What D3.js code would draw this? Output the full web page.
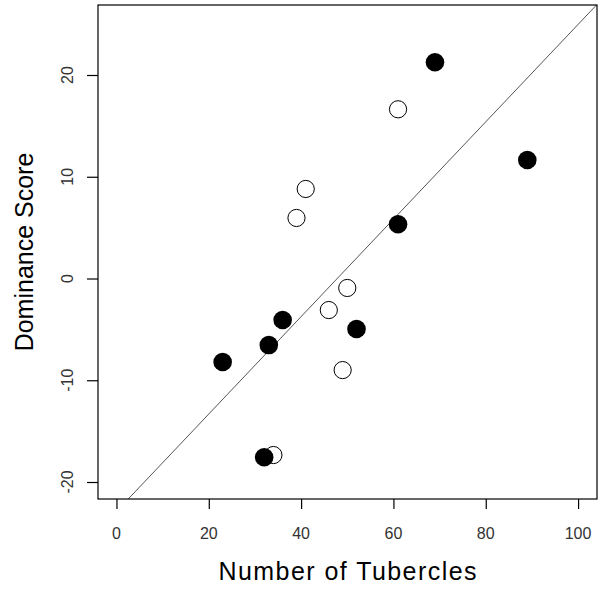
<!DOCTYPE html>
<html>
<head>
<meta charset="utf-8">
<script src="https://cdn.jsdelivr.net/npm/d3@7"></script>
<style>
  body { margin: 0; background: #fff; }
  svg { display: block; font-family: "Liberation Sans", Arial, sans-serif; }
  .tick-label { font-size: 16px; fill: #333; }
  .axis-title { font-size: 25px; fill: #000; }
</style>
</head>
<body>
<div class="chart"></div>
<script>
// Tubercle count vs dominance score

var tubercles = [41, 39, 61, 50, 46, 36, 52, 33, 23, 49, 69, 61, 89, 32, 34];
var dominance = [8.8, 5.95, 5.33, -0.93, -3.1, -4.08, -4.96, -6.54, -8.21, -9.0, 21.25, 16.63, 11.65, -17.57, -17.35];
var filled = [false, false, true, false, false, true, true, true, true, false, true, false, true, true, false];

var xTicks = [0, 20, 40, 60, 80, 100];
var yTicks = [-20, -10, 0, 10, 20];

// fitted line y = a + b*x
var lineIntercept = -22.89;
var lineSlope = 0.4786;

var svgWidth = 606;
var svgHeight = 593;

var plot = { left: 98, right: 597, top: 5, bottom: 499 };

var svg = d3.select(".chart")
  .append("svg")
  .attr("width", svgWidth)
  .attr("height", svgHeight);

var xScale = d3.scaleLinear()
  .domain([-4.0, 104.1])
  .range([plot.left, plot.right]);

var yScale = d3.scaleLinear()
  .domain([-21.67, 26.88])
  .range([plot.bottom, plot.top]);

svg.append("defs").append("clipPath")
  .attr("id", "plot-clip")
  .append("rect")
  .attr("x", plot.left)
  .attr("y", plot.top)
  .attr("width", plot.right - plot.left)
  .attr("height", plot.bottom - plot.top);

// regression line across the whole x domain, clipped to the box
var xd = xScale.domain();
svg.append("line")
  .attr("clip-path", "url(#plot-clip)")
  .attr("x1", xScale(xd[0]))
  .attr("y1", yScale(lineIntercept + lineSlope * xd[0]))
  .attr("x2", xScale(xd[1]))
  .attr("y2", yScale(lineIntercept + lineSlope * xd[1]))
  .attr("stroke", "#555")
  .attr("stroke-width", 1);

// points - open ones first so the filled ones sit on top
var points = tubercles.map(function(t, i) {
  return { x: t, y: dominance[i], filled: filled[i] };
});
points.sort(function(a, b) { return (a.filled ? 1 : 0) - (b.filled ? 1 : 0); });

svg.append("g")
  .selectAll("circle")
  .data(points)
  .enter().append("circle")
    .attr("cx", function(d) { return xScale(d.x); })
    .attr("cy", function(d) { return yScale(d.y); })
    .attr("r", function(d) { return d.filled ? 9.3 : 8.6; })
    .attr("fill", function(d) { return d.filled ? "#000" : "#fff"; })
    .attr("fill-opacity", function(d) { return d.filled ? 1 : 0; })
    .attr("stroke", "#000")
    .attr("stroke-width", function(d) { return d.filled ? 0 : 1; });

// box
svg.append("rect")
  .attr("x", plot.left)
  .attr("y", plot.top)
  .attr("width", plot.right - plot.left)
  .attr("height", plot.bottom - plot.top)
  .attr("fill", "none")
  .attr("stroke", "#000")
  .attr("stroke-width", 1.2);

// x axis
var xAxis = d3.axisBottom(xScale)
  .tickValues(xTicks)
  .tickSize(10)
  .tickPadding(0)
  .tickFormat(function() { return ""; });

var gx = svg.append("g")
  .attr("transform", "translate(0," + plot.bottom + ")")
  .call(xAxis);
gx.select(".domain").remove();
gx.selectAll(".tick line").attr("stroke", "#000").attr("stroke-width", 1.2);

svg.append("g")
  .selectAll("text")
  .data(xTicks)
  .enter().append("text")
    .attr("class", "tick-label")
    .attr("x", function(d) { return xScale(d); })
    .attr("y", 539)
    .attr("text-anchor", "middle")
    .text(function(d) { return d; });

// y axis
var yAxis = d3.axisLeft(yScale)
  .tickValues(yTicks)
  .tickSize(11)
  .tickPadding(0)
  .tickFormat(function() { return ""; });

var gy = svg.append("g")
  .attr("transform", "translate(" + plot.left + ",0)")
  .call(yAxis);
gy.select(".domain").remove();
gy.selectAll(".tick line").attr("stroke", "#000").attr("stroke-width", 1.2);

svg.append("g")
  .selectAll("text")
  .data(yTicks)
  .enter().append("text")
    .attr("class", "tick-label")
    .attr("transform", function(d) { return "translate(73," + yScale(d) + ") rotate(-90)"; })
    .attr("text-anchor", "middle")
    .text(function(d) { return d; });

// axis titles
svg.append("text")
  .attr("class", "axis-title")
  .attr("x", (plot.left + plot.right) / 2)
  .attr("y", 580)
  .attr("text-anchor", "middle")
  .attr("textLength", 258)
  .attr("lengthAdjust", "spacing")
  .text("Number of Tubercles");

svg.append("text")
  .attr("class", "axis-title")
  .attr("transform", "translate(33," + ((plot.top + plot.bottom) / 2) + ") rotate(-90)")
  .attr("text-anchor", "middle")
  .text("Dominance Score");
</script>
</body>
</html>
